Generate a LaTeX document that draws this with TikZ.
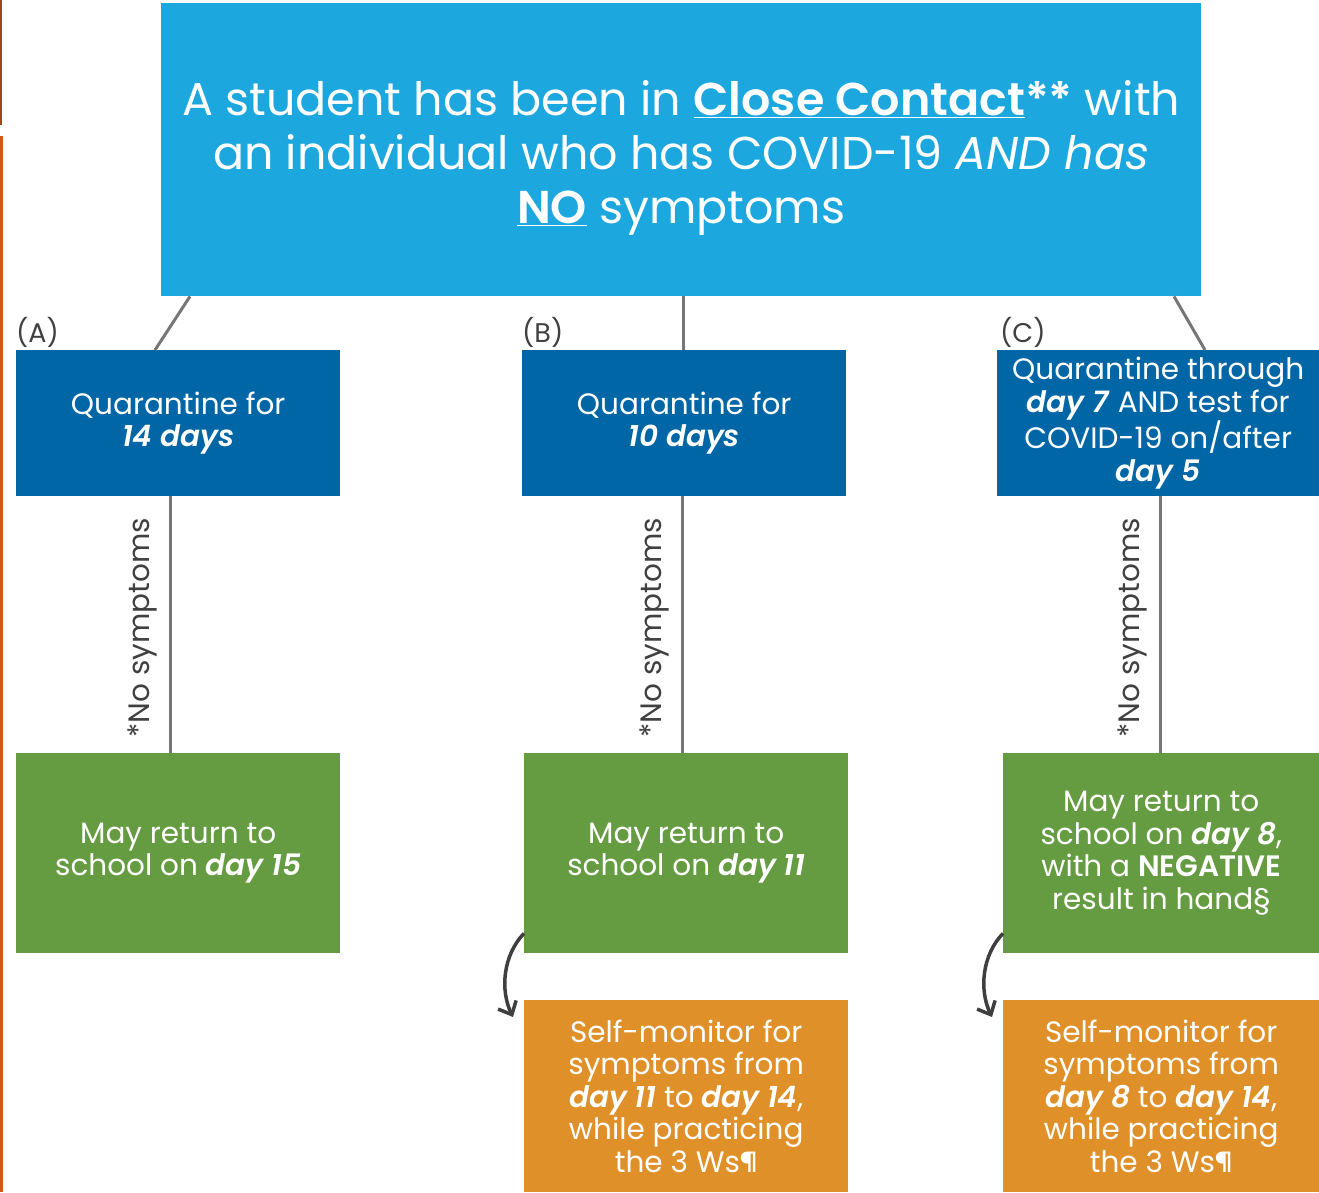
\documentclass[tikz,border=0pt]{standalone}
\usepackage{fontspec}
\setmainfont{Poppins}[BoldFont={Poppins SemiBold}, BoldItalicFont={Poppins SemiBold Italic}]
\usetikzlibrary{arrows.meta,calc}
\definecolor{topblue}{HTML}{1DA7DF}
\definecolor{darkblue}{HTML}{0066A5}
\definecolor{mygreen}{HTML}{659C41}
\definecolor{myorange}{HTML}{DF9028}
\definecolor{conngray}{HTML}{767676}
\definecolor{arrowgray}{HTML}{3F3F3F}
\definecolor{lbl}{HTML}{404040}
\definecolor{edgeorange}{HTML}{D6561F}
\definecolor{edgebrown}{HTML}{A0461A}
\tikzset{
  box/.style={rectangle, anchor=north west, inner sep=0pt, text=white, align=center, font=\fontsize{29.5}{32.5}\selectfont},
  titletext/.style={inner sep=0pt, text=white, align=center, font=\fontsize{46}{54}\selectfont},
  conn/.style={draw=conngray, line width=3pt},
  curarrow/.style={draw=arrowgray, line width=3.5pt, -{Straight Barb[length=11pt,width=20pt,line width=3.5pt]}},
  letter/.style={anchor=west, text=lbl, font=\fontsize{27}{30}\selectfont, inner sep=0pt},
  sidelabel/.style={rotate=90, text=lbl, font=\fontsize{29.5}{30}\selectfont, inner sep=0pt}
}
\newcommand{\bi}[1]{\textbf{\textit{#1}}}
\begin{document}
\begin{tikzpicture}[x=1pt,y=-1pt]
\useasboundingbox (0,0) rectangle (1319,1192);
% left edge lines
\draw[edgebrown, line width=2pt] (0.8,0) -- (0.8,125);
\draw[edgeorange, line width=3pt] (1.5,136) -- (1.5,1192);
% top box
\node[box, fill=topblue, minimum width=1040pt, minimum height=293pt] (top) at (161,3) {};
\node[titletext] (title) at ($(top.center)+(0,8)$)
  {A student has been in \underline{\textbf{Close Contact}}\textbf{**} with\\
   an individual who has COVID-19 \textit{AND has}\\
   \underline{\textbf{NO}} symptoms};
% blue boxes
\node[box, fill=darkblue, minimum width=324pt, minimum height=146pt] (qA) at (16,350)
  {Quarantine for\\ \bi{14 days}};
\node[box, fill=darkblue, minimum width=324pt, minimum height=146pt] (qB) at (522,350)
  {Quarantine for\\ \bi{10 days}};
\node[box, fill=darkblue, minimum width=322pt, minimum height=146pt] (qC) at (997,350)
  {Quarantine through\\ \bi{day 7} AND test for\\ COVID-19 on/after\\ \bi{day 5}};
% green boxes
\node[box, fill=mygreen, minimum width=324pt, minimum height=200pt] (gA) at (16,753)
  {May return to\\ school on \bi{day 15}};
\node[box, fill=mygreen, minimum width=324pt, minimum height=200pt] (gB) at (524,753)
  {May return to\\ school on \bi{day 11}};
\node[box, fill=mygreen, minimum width=316pt, minimum height=200pt] (gC) at (1003,753)
  {May return to\\ school on \bi{day 8},\\ with a \textbf{NEGATIVE}\\ result in hand§};
% orange boxes
\node[box, fill=myorange, minimum width=324pt, minimum height=192pt] (oB) at (524,1000)
  {Self-monitor for\\ symptoms from\\ \bi{day 11} to \bi{day 14},\\ while practicing\\ the 3 Ws¶};
\node[box, fill=myorange, minimum width=316pt, minimum height=192pt] (oC) at (1003,1000)
  {Self-monitor for\\ symptoms from\\ \bi{day 8} to \bi{day 14},\\ while practicing\\ the 3 Ws¶};
% labels
\node[letter] (lA) at (16,332) {(A)};
\node[letter] (lB) at (522,332) {(B)};
\node[letter] (lC) at (1000,332) {(C)};
% connectors from top
\draw[conn] ($(top.south west)+(29,0)$) -- ($(qA.north west)+(139,0)$);
\draw[conn] ($(top.south west)+(522,0)$) -- ($(qB.north west)+(161,0)$);
\draw[conn] ($(top.south west)+(1013,0)$) -- ($(qC.north west)+(208,0)$);
% vertical connectors
\draw[conn] ($(qA.south west)+(154,0)$) -- coordinate[pos=0.5] (mA) ($(gA.north west)+(154,0)$);
\draw[conn] ($(qB.south west)+(160,0)$) -- coordinate[pos=0.5] (mB) ($(gB.north west)+(158,0)$);
\draw[conn] ($(qC.south west)+(163,0)$) -- coordinate[pos=0.5] (mC) ($(gC.north west)+(157,0)$);
\node[sidelabel] (sA) at ($(mA)+(-27,3)$) {*No symptoms};
\node[sidelabel] (sB) at ($(mB)+(-28,3)$) {*No symptoms};
\node[sidelabel] (sC) at ($(mC)+(-28,3)$) {*No symptoms};
% curved arrows
\draw[curarrow] ($(gB.south west)+(0,-20)$) .. controls (503,955) and (500,990) .. ($(oB.north west)+(-11,17)$);
\draw[curarrow] ($(gC.south west)+(0,-20)$) .. controls (982,955) and (979,990) .. ($(oC.north west)+(-11,17)$);
\end{tikzpicture}
\end{document}
